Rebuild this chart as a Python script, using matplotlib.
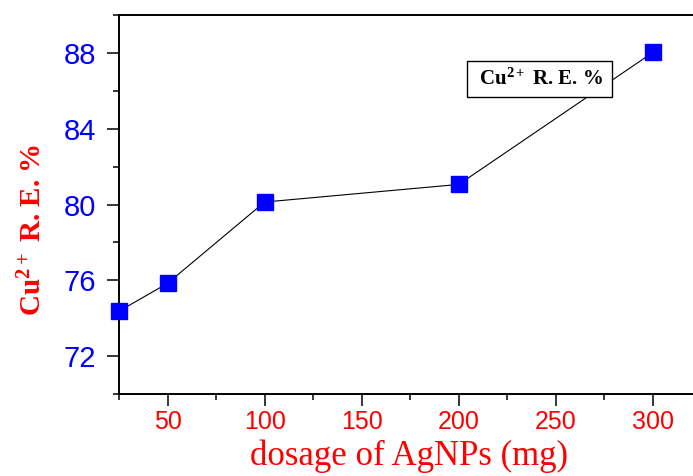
import matplotlib
matplotlib.use('Agg')
import matplotlib.pyplot as plt
from matplotlib.ticker import MultipleLocator

# dosage (mg) and Cu2+ removal efficiency (%)
dosage = [25, 50, 100, 200, 300]
removal = [74.37, 75.84, 80.13, 81.06, 88.03]

plt.rcParams['mathtext.fontset'] = 'custom'
plt.rcParams['mathtext.rm'] = 'Liberation Serif:bold'
plt.rcParams['mathtext.bf'] = 'Liberation Serif:bold'
plt.rcParams['mathtext.it'] = 'Liberation Serif:bold'

fig = plt.figure(figsize=(6.93, 4.76), dpi=100)
ax = fig.add_axes([119 / 693, 1 - 394 / 476, 1 - 119 / 693, (394 - 15) / 476])

ax.plot(dosage, removal, color='black', linewidth=0.8, zorder=2)
ax.plot(dosage, removal, linestyle='none', marker='s', markersize=11.5,
        markerfacecolor='#0000ff', markeredgecolor='#0000ff', zorder=3, clip_on=False)

ax.set_xlim(25, 320.6)
ax.set_ylim(70, 90)
ax.xaxis.set_major_locator(MultipleLocator(50))
ax.xaxis.set_minor_locator(MultipleLocator(25))
ax.yaxis.set_major_locator(MultipleLocator(4))
ax.yaxis.set_minor_locator(MultipleLocator(2))

for s in ['left', 'bottom', 'top']:
    ax.spines[s].set_linewidth(1.4)
ax.spines['right'].set_visible(False)

ax.tick_params(which='major', direction='out', length=8.5, width=1.1)
ax.tick_params(which='minor', direction='out', length=4.5, width=1.1)
ax.tick_params(axis='x', which='major', labelsize=18, labelcolor='#ff0000', pad=3)
ax.tick_params(axis='y', which='major', labelsize=21, labelcolor='#0000ff', pad=8)
for lab in ax.get_xticklabels() + ax.get_yticklabels():
    lab.set_family('Liberation Sans')

# x label sits low, close to the bottom edge as in the original
ax.set_xlabel('dosage of AgNPs (mg)', fontsize=25, color='#ff0000',
              family='Liberation Serif')
ax.xaxis.set_label_coords((409 - 119) / 574, -(456 - 394) / 379)
ax.xaxis.label.set_va('center')
ax.set_ylabel(r'Cu$^{2+}$ R. E. %', fontsize=21, color='#ff0000',
              family='Liberation Serif', fontweight='bold')
ax.yaxis.set_label_coords(-(119 - 33) / 574, (394 - 230) / 379)
ax.yaxis.label.set_va('center')

ax.text(241.5, 86.62, r' Cu$^{2+}$ R. E. % ', fontsize=15,
        family='Liberation Serif', fontweight='bold', color='black',
        ha='center', va='center', zorder=4,
        bbox=dict(boxstyle='square,pad=0.35', facecolor='white',
                  edgecolor='black', linewidth=1.0))

fig.savefig('out.png', dpi=100)
